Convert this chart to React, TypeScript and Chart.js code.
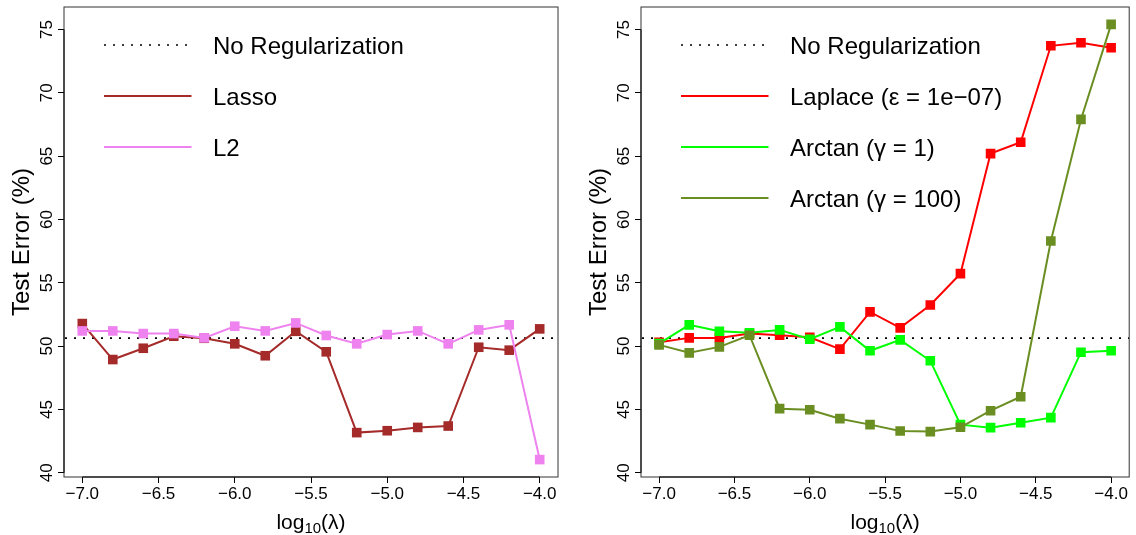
import React, { useEffect, useRef } from "react";
import { Chart, registerables } from "chart.js";

Chart.register(...registerables);

// ---------------- data ----------------
const LAMBDA = [-7.0, -6.8, -6.6, -6.4, -6.2, -6.0, -5.8, -5.6, -5.4, -5.2, -5.0, -4.8, -4.6, -4.4, -4.2, -4.0];

const LASSO = [51.78, 48.94, 49.83, 50.78, 50.62, 50.18, 49.24, 51.17, 49.55, 43.17, 43.32, 43.58, 43.69, 49.91, 49.68, 51.36];
const L2 = [51.2, 51.2, 50.99, 50.99, 50.65, 51.57, 51.2, 51.83, 50.84, 50.18, 50.91, 51.2, 50.18, 51.28, 51.68, 41.04];

const LAPLACE = [50.3, 50.65, 50.65, 51.0, 50.86, 50.7, 49.76, 52.7, 51.44, 53.25, 55.72, 65.2, 66.1, 73.71, 73.95, 73.56];
const ARCTAN_1 = [50.2, 51.68, 51.17, 51.05, 51.28, 50.54, 51.52, 49.63, 50.49, 48.84, 43.8, 43.56, 43.95, 44.35, 49.52, 49.63];
const ARCTAN_100 = [50.1, 49.47, 49.94, 50.86, 45.06, 44.98, 44.27, 43.8, 43.3, 43.25, 43.59, 44.9, 46.0, 58.3, 67.9, 75.4];

const NO_REG = 50.63;

const X_TICKS = [-7.0, -6.5, -6.0, -5.5, -5.0, -4.5, -4.0];
const X_TICK_LABELS = ["−7.0", "−6.5", "−6.0", "−5.5", "−5.0", "−4.5", "−4.0"];
const Y_TICKS = [40, 45, 50, 55, 60, 65, 70, 75];
const Y_TICK_LABELS = ["40", "45", "50", "55", "60", "65", "70", "75"];

const Y_TITLE = "Test Error (%)";
const X_TITLE_MAIN = "log";
const X_TITLE_SUB = "10";
const X_TITLE_ARG = "(λ)";

const NO_REG_LABEL = "No Regularization";
const LEFT_LABELS = ["Lasso", "L2"];
const RIGHT_LABELS = ["Laplace (ε = 1e−07)", "Arctan (γ = 1)", "Arctan (γ = 100)"];

// ---------------- styles ----------------
const FONT = '"Liberation Sans", Arial, Helvetica, sans-serif';
const LEFT_COLORS = ["#A52A2A", "#EE82EE"];
const RIGHT_COLORS = ["#FF0000", "#00FF00", "#6B8E23"];
const TICK_FONT = 17;
const TITLE_FONT = 24;
const XTITLE_FONT = 21;
const LEGEND_FONT = 24;

// R-style axis limits (4% extension of data range)
const ALL_Y = [...LASSO, ...L2, ...LAPLACE, ...ARCTAN_1, ...ARCTAN_100];
const Y_DMIN = Math.min(...ALL_Y);
const Y_DMAX = Math.max(...ALL_Y);
const Y_MIN = Y_DMIN - 0.04 * (Y_DMAX - Y_DMIN);
const Y_MAX = Y_DMAX + 0.04 * (Y_DMAX - Y_DMIN);
const X_DMIN = Math.min(...LAMBDA);
const X_DMAX = Math.max(...LAMBDA);
const X_MIN = X_DMIN - 0.04 * (X_DMAX - X_DMIN);
const X_MAX = X_DMAX + 0.04 * (X_DMAX - X_DMIN);

type LegendEntry = { label: string; color: string | null };

function makePanelPlugin(legend: LegendEntry[]) {
  return {
    id: "rpanel",
    beforeDatasetsDraw(chart: any) {
      const { ctx, chartArea: a, scales } = chart;
      const y = scales.y;
      ctx.save();
      ctx.beginPath();
      ctx.rect(a.left, a.top, a.right - a.left, a.bottom - a.top);
      ctx.clip();
      ctx.setLineDash([2, 7]);
      ctx.lineWidth = 1.6;
      ctx.strokeStyle = "#000";
      const py = y.getPixelForValue(NO_REG);
      ctx.beginPath();
      ctx.moveTo(a.left + 1, py);
      ctx.lineTo(a.right, py);
      ctx.stroke();
      ctx.restore();
    },
    afterDraw(chart: any) {
      const { ctx, chartArea: a, scales } = chart;
      const x = scales.x;
      const y = scales.y;
      ctx.save();
      ctx.setLineDash([]);
      // box
      ctx.strokeStyle = "#333";
      ctx.lineWidth = 1;
      ctx.strokeRect(a.left, a.top, a.right - a.left, a.bottom - a.top);
      // axis lines (R style, first to last tick)
      ctx.strokeStyle = "#000";
      ctx.beginPath();
      ctx.moveTo(x.getPixelForValue(X_TICKS[0]), a.bottom);
      ctx.lineTo(x.getPixelForValue(X_TICKS[X_TICKS.length - 1]), a.bottom);
      ctx.moveTo(a.left, y.getPixelForValue(Y_TICKS[0]));
      ctx.lineTo(a.left, y.getPixelForValue(Y_TICKS[Y_TICKS.length - 1]));
      ctx.stroke();

      ctx.fillStyle = "#000";
      ctx.textAlign = "center";
      ctx.textBaseline = "alphabetic";
      // x tick labels
      ctx.font = `${TICK_FONT}px ${FONT}`;
      X_TICKS.forEach((v, i) => {
        ctx.fillText(X_TICK_LABELS[i], x.getPixelForValue(v), a.bottom + 15.7 + 0.358 * TICK_FONT);
      });
      // y tick labels, rotated
      Y_TICKS.forEach((v, i) => {
        ctx.save();
        ctx.translate(a.left - 18.5, y.getPixelForValue(v));
        ctx.rotate(-Math.PI / 2);
        ctx.fillText(Y_TICK_LABELS[i], 0, 0.358 * TICK_FONT);
        ctx.restore();
      });
      // y title
      ctx.font = `${TITLE_FONT}px ${FONT}`;
      ctx.save();
      ctx.translate(a.left - 44, (a.top + a.bottom) / 2);
      ctx.rotate(-Math.PI / 2);
      ctx.fillText(Y_TITLE, 0, 0.358 * TITLE_FONT);
      ctx.restore();
      // x title: log_10(λ)
      ctx.textAlign = "left";
      ctx.font = `${XTITLE_FONT}px ${FONT}`;
      const wMain = ctx.measureText(X_TITLE_MAIN).width;
      const wArg = ctx.measureText(X_TITLE_ARG).width;
      ctx.font = `15px ${FONT}`;
      const wSub = ctx.measureText(X_TITLE_SUB).width;
      const total = wMain + wSub + wArg;
      let tx = (a.left + a.right) / 2 - total / 2;
      const base = a.bottom + 51.5;
      ctx.font = `${XTITLE_FONT}px ${FONT}`;
      ctx.fillText(X_TITLE_MAIN, tx, base);
      tx += wMain;
      ctx.font = `15px ${FONT}`;
      ctx.fillText(X_TITLE_SUB, tx, base + 4.5);
      tx += wSub;
      ctx.font = `${XTITLE_FONT}px ${FONT}`;
      ctx.fillText(X_TITLE_ARG, tx, base);

      // legend
      ctx.font = `${LEGEND_FONT}px ${FONT}`;
      legend.forEach((e, i) => {
        const ry = a.top + 38 + i * 51;
        ctx.save();
        ctx.beginPath();
        if (e.color === null) {
          ctx.setLineDash([2, 7]);
          ctx.lineWidth = 1.6;
          ctx.strokeStyle = "#000";
        } else {
          ctx.lineWidth = 2;
          ctx.strokeStyle = e.color;
        }
        ctx.moveTo(a.left + 40, ry);
        ctx.lineTo(a.left + 127.5, ry);
        ctx.stroke();
        ctx.restore();
        ctx.fillStyle = "#000";
        ctx.fillText(e.label, a.left + 149, ry + 0.358 * LEGEND_FONT);
      });
      ctx.restore();
    },
  };
}

type PanelProps = {
  labels: string[];
  values: number[][];
  colors: string[];
  axisWidth: number;
  padRight: number;
  left: number;
};

function Panel({ labels, values, colors, axisWidth, padRight, left }: PanelProps) {
  const ref = useRef<HTMLCanvasElement | null>(null);
  useEffect(() => {
    if (!ref.current) return;
    const n = labels.length;
    const legend: LegendEntry[] = [
      { label: NO_REG_LABEL, color: null },
      ...labels.map((l, i) => ({ label: l, color: colors[i] })),
    ];
    const chart = new Chart(ref.current, {
      type: "line",
      data: {
        datasets: labels.map((l, i) => ({
          label: l,
          data: LAMBDA.map((xv, j) => ({ x: xv, y: values[i][j] })),
          borderColor: colors[i],
          backgroundColor: colors[i],
          pointBackgroundColor: colors[i],
          borderWidth: 2,
          pointStyle: "rect",
          pointRadius: 6.8,
          pointBorderWidth: 0,
          tension: 0,
          fill: false,
          order: n - 1 - i,
        })),
      },
      options: {
        animation: false,
        responsive: false,
        devicePixelRatio: 1,
        events: [],
        layout: { padding: { left: 0, right: padRight, top: 7, bottom: 0 } },
        plugins: { legend: { display: false }, tooltip: { enabled: false } },
        scales: {
          x: {
            type: "linear",
            min: X_MIN,
            max: X_MAX,
            afterBuildTicks: (s: any) => {
              s.ticks = X_TICKS.map((v) => ({ value: v }));
            },
            afterFit: (s: any) => {
              s.height = 58;
            },
            grid: { display: true, drawOnChartArea: false, drawTicks: true, tickLength: 6, color: "#000", lineWidth: 1 },
            border: { display: false },
            ticks: { display: false },
          },
          y: {
            type: "linear",
            min: Y_MIN,
            max: Y_MAX,
            afterBuildTicks: (s: any) => {
              s.ticks = Y_TICKS.map((v) => ({ value: v }));
            },
            afterFit: (s: any) => {
              s.width = axisWidth;
            },
            grid: { display: true, drawOnChartArea: false, drawTicks: true, tickLength: 6, color: "#000", lineWidth: 1 },
            border: { display: false },
            ticks: { display: false },
          },
        },
      } as any,
      plugins: [makePanelPlugin(legend)],
    });
    return () => chart.destroy();
  }, []);
  return (
    <canvas
      ref={ref}
      width={568}
      height={535}
      style={{ position: "absolute", left, top: 0, width: 568, height: 535 }}
    />
  );
}

export default function App() {
  return (
    <div style={{ position: "fixed", left: 0, top: 0, width: 1136, height: 535, background: "#fff", overflow: "hidden" }}>
      <Panel labels={LEFT_LABELS} values={[LASSO, L2]} colors={LEFT_COLORS} axisWidth={64} padRight={10} left={0} />
      <Panel
        labels={RIGHT_LABELS}
        values={[LAPLACE, ARCTAN_1, ARCTAN_100]}
        colors={RIGHT_COLORS}
        axisWidth={73}
        padRight={3}
        left={568}
      />
    </div>
  );
}
